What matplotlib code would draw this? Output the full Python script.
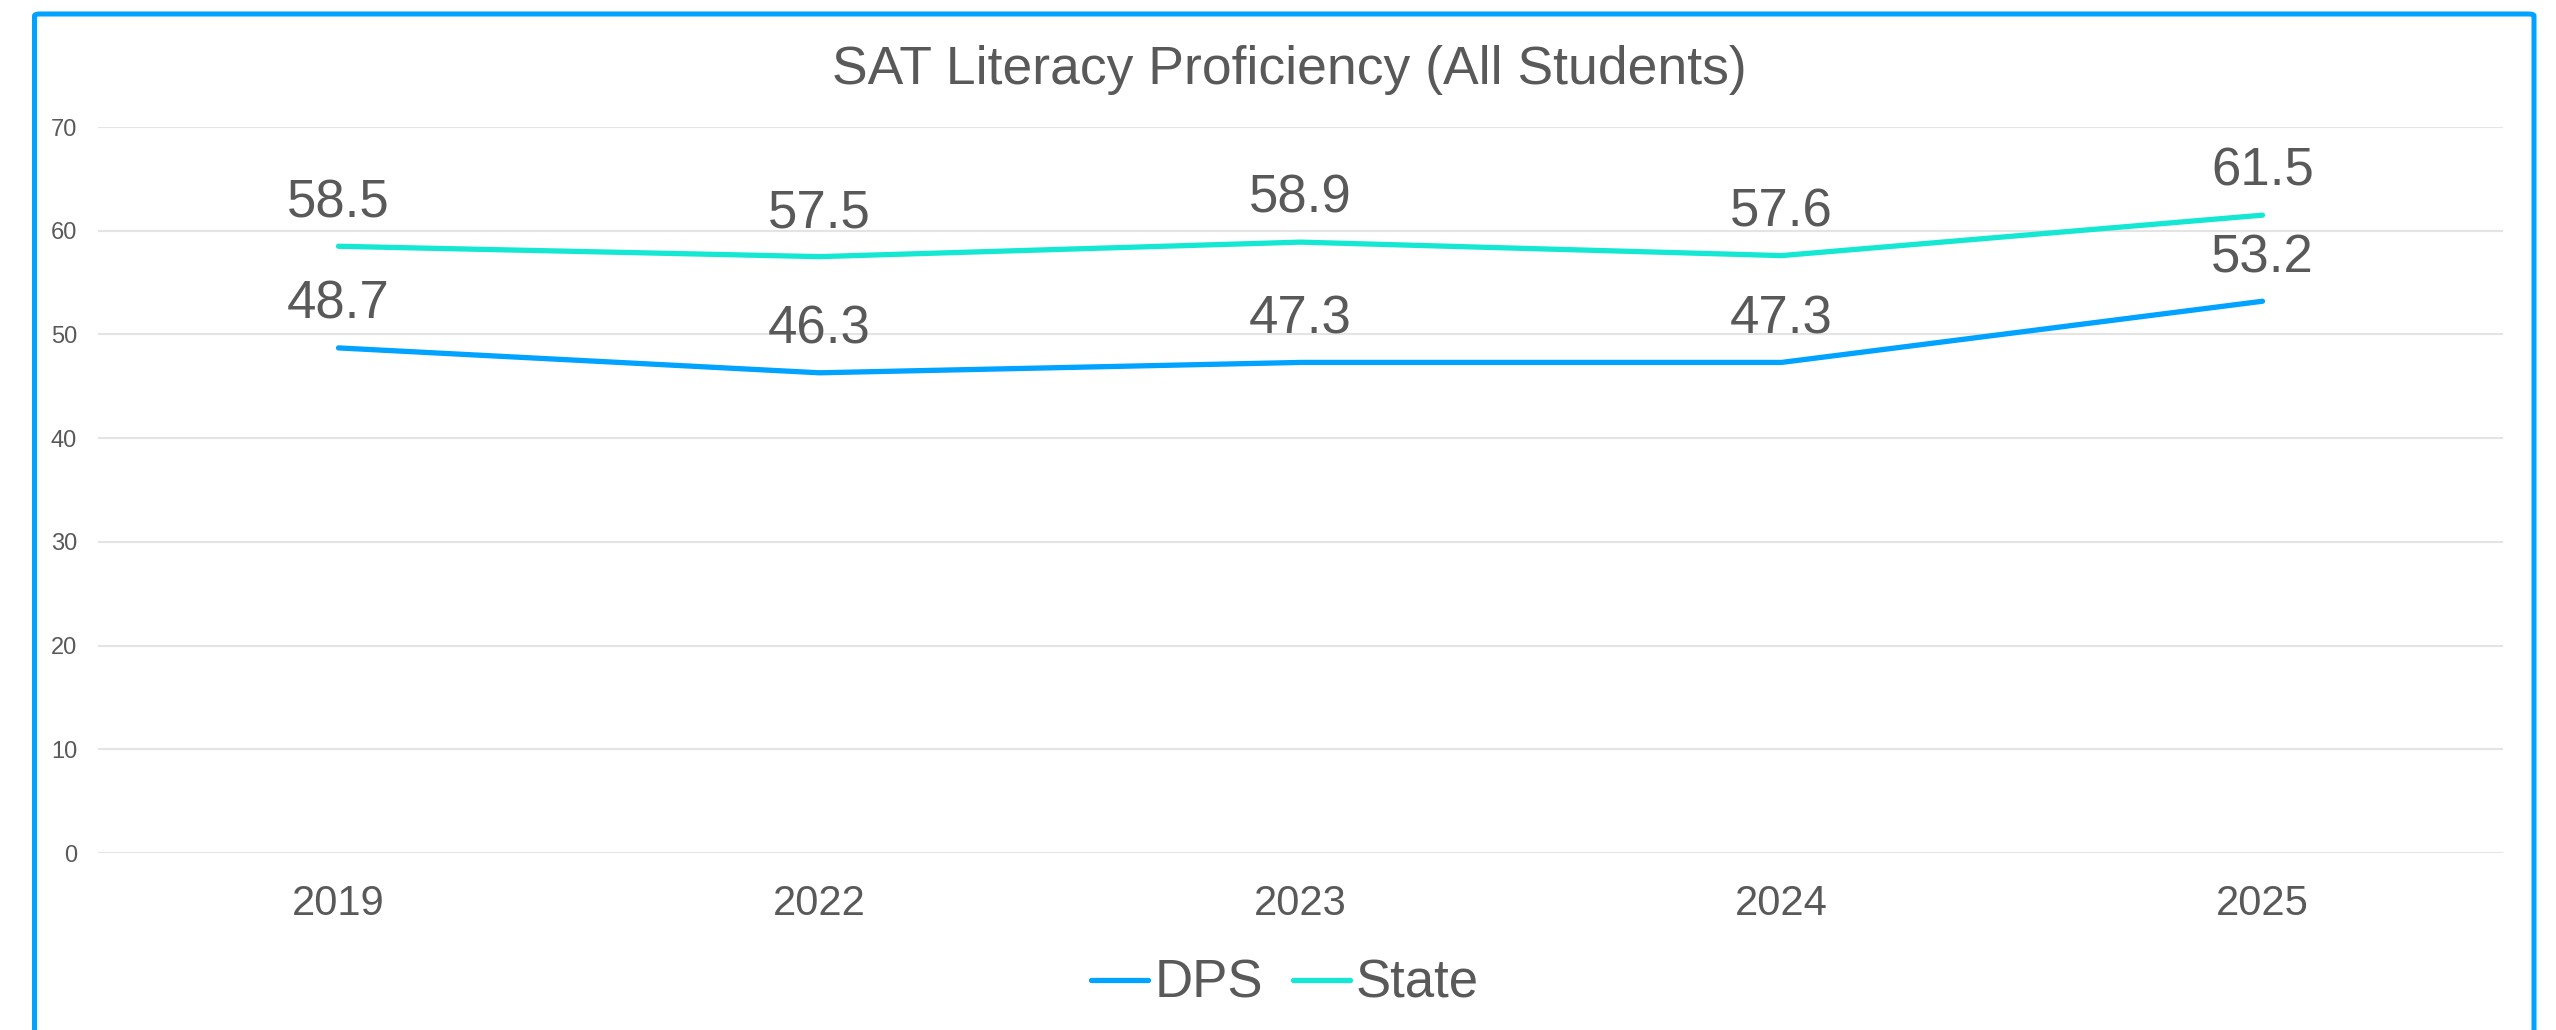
import matplotlib
matplotlib.use("Agg")
import matplotlib.pyplot as plt
from matplotlib.patches import FancyBboxPatch

years = ["2019", "2022", "2023", "2024", "2025"]
dps = [48.7, 46.3, 47.3, 47.3, 53.2]
state = [58.5, 57.5, 58.9, 57.6, 61.5]
yticks = [0, 10, 20, 30, 40, 50, 60, 70]
title = "SAT Literacy Proficiency (All Students)"

TEXT = "#595959"
BLUE = "#00A3FF"
TEAL = "#14E8D2"
GRID = "#E4E4E4"

plt.rcParams['font.family'] = ['Liberation Sans', 'DejaVu Sans']

W, H = 2556, 1030
fig = plt.figure(figsize=(W / 100, H / 100), dpi=100)
ax = fig.add_axes([98 / W, 1 - 853 / H, (2503 - 98) / W, (853 - 127) / H])

x = list(range(len(years)))
ax.plot(x, dps, color=BLUE, lw=3.8, solid_capstyle='round', solid_joinstyle='round', label="DPS", zorder=3)
ax.plot(x, state, color=TEAL, lw=3.8, solid_capstyle='round', solid_joinstyle='round', label="State", zorder=3)

for xi, v in zip(x, dps):
    ax.annotate(f"{v:.1f}", (xi, v), xytext=(0, 21), textcoords='offset points',
                ha='center', va='baseline', fontsize=38, color=TEXT)
for xi, v in zip(x, state):
    ax.annotate(f"{v:.1f}", (xi, v), xytext=(0, 21), textcoords='offset points',
                ha='center', va='baseline', fontsize=38, color=TEXT)

ax.set_xlim(-0.5, len(years) - 0.5)
ax.set_ylim(0, 70)
ax.set_yticks(yticks)
ax.set_yticklabels([str(t) for t in yticks])
ax.set_xticks(x)
ax.set_xticklabels(years)
ax.tick_params(axis='y', length=0, pad=15, labelsize=17, labelcolor=TEXT)
ax.tick_params(axis='x', length=0, pad=22, labelsize=30, labelcolor=TEXT)
ax.grid(axis='y', color=GRID, lw=1.5)
ax.set_axisbelow(True)
for s in ax.spines.values():
    s.set_visible(False)

fig.text(1289 / W, 1 - 84 / H, title, ha='center', va='baseline', fontsize=38.5, color=TEXT)

leg = fig.legend(loc='center', bbox_to_anchor=(1285 / W, 1 - 984 / H), ncol=2, frameon=False,
                 fontsize=38, handlelength=1.08, handletextpad=0.11, columnspacing=0.57,
                 borderpad=0, borderaxespad=0)
for t in leg.get_texts():
    t.set_color(TEXT)

border = FancyBboxPatch((34.5 / W, -0.05), (2534 - 34.5) / W, 1.05 - 14 / H,
                        boxstyle='round,pad=0,rounding_size=0.002', transform=fig.transFigure,
                        fill=False, edgecolor=BLUE, lw=3.6, zorder=10)
fig.add_artist(border)

fig.savefig("out.png", dpi=100)
